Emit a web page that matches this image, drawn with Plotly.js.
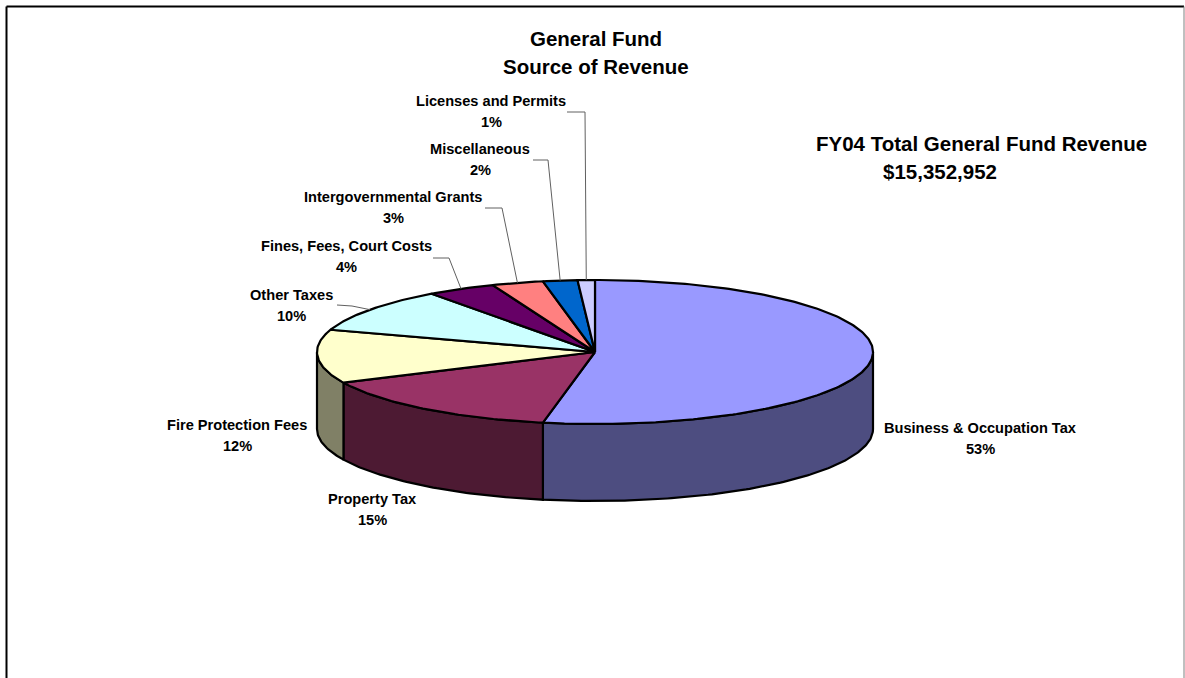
<!DOCTYPE html>
<html>
<head>
<meta charset="utf-8">
<script src="https://cdn.plot.ly/plotly-3.0.1.min.js"></script>
<style>html,body{margin:0;padding:0;background:#fff;}#chart{width:1185px;height:678px;}</style>
</head>
<body>
<div id="chart"></div>
<script>
// ---- data ----
const categories = ['Business & Occupation Tax','Property Tax','Fire Protection Fees','Other Taxes','Fines, Fees, Court Costs','Intergovernmental Grants','Miscellaneous','Licenses and Permits'];
const percents = [53, 15, 12, 10, 4, 3, 2, 1];
const topColors = ['#9999FF','#993366','#FFFFCC','#CCFFFF','#660066','#FF8080','#0066CC','#CCCCFF'];
const sideColors = ['#4D4D80','#4D1A33','#808066','#668080','#330033','#804040','#003366','#666680'];
const titleLines = ['General Fund','Source of Revenue'];
const totalLines = ['FY04 Total General Fund Revenue','$15,352,952'];

// ---- layout geometry (pixel space) ----
const W = 1185, H = 678;
const cx = 595, cy = 352, rx = 278, ry = 72, depth = 77;
const labelPos = [[980,428],[372,499],[237,425],[291,295],[346,246],[393,197],[480,149],[491,101]];
// leader lines: label-side points (start, elbow) for labelled slices that need them
const leaders = {3: [[337,305],[352,306]], 4: [[433,258],[449,258]], 5: [[485,208],[502,208]], 6: [[533,160],[548,160]], 7: [[567,112],[585,112]]};

const total = percents.reduce((a,b)=>a+b,0);
function pt(frac, dy){ const t = 2*Math.PI*frac; return [cx + rx*Math.sin(t), cy - ry*Math.cos(t) + dy]; }
function arc(f0, f1, dy){ const n = Math.max(2, Math.ceil((f1-f0)*400)); const out=[]; for(let i=0;i<=n;i++){ out.push(pt(f0+(f1-f0)*i/n, dy)); } return out; }

const starts = []; let acc = 0;
percents.forEach(v=>{ starts.push(acc/total); acc += v; });
const ends = starts.map((s,i)=> s + percents[i]/total);

const traces = [];
// side faces (front half only)
percents.forEach((v,i)=>{
  const s0 = Math.max(starts[i], 0.25), s1 = Math.min(ends[i], 0.75);
  if (s1 <= s0) return;
  const pts = arc(s0, s1, 0).concat(arc(s0, s1, depth).reverse());
  pts.push(pts[0]);
  traces.push({type:'scatter', mode:'lines', x: pts.map(p=>p[0]), y: pts.map(p=>p[1]), fill:'toself', fillcolor: sideColors[i], line:{color:'#000', width:2.2}, hoverinfo:'skip', showlegend:false});
});
// top faces
percents.forEach((v,i)=>{
  const pts = [[cx,cy]].concat(arc(starts[i], ends[i], 0));
  pts.push([cx,cy]);
  traces.push({type:'scatter', mode:'lines', x: pts.map(p=>p[0]), y: pts.map(p=>p[1]), fill:'toself', fillcolor: topColors[i], line:{color:'#000', width:2.2}, hoverinfo:'skip', showlegend:false, name: categories[i]});
});
// leader lines
Object.keys(leaders).forEach(k=>{
  const i = +k; const mid = (starts[i]+ends[i])/2; const a = pt(mid, 0);
  const pts = leaders[k].concat([a]);
  traces.push({type:'scatter', mode:'lines', x: pts.map(p=>p[0]), y: pts.map(p=>p[1]), line:{color:'#606060', width:1}, hoverinfo:'skip', showlegend:false});
});

const font = {family:'"Liberation Sans", Arial, sans-serif', color:'#000'};
const LS = 14.6, TS = 20.5;
const annotations = [];
categories.forEach((c,i)=>{
  annotations.push({x: labelPos[i][0], y: labelPos[i][1], xref:'x', yref:'y', text:'<b>'+c+'</b>', showarrow:false, font:Object.assign({size:LS}, font)});
  annotations.push({x: labelPos[i][0], y: labelPos[i][1]+21, xref:'x', yref:'y', text:'<b>'+Math.round(percents[i]/total*100)+'%</b>', showarrow:false, font:Object.assign({size:LS}, font)});
});
annotations.push({x:596, y:38, xref:'x', yref:'y', text:'<b>'+titleLines[0]+'</b>', showarrow:false, font:Object.assign({size:TS}, font)});
annotations.push({x:596, y:66, xref:'x', yref:'y', text:'<b>'+titleLines[1]+'</b>', showarrow:false, font:Object.assign({size:TS}, font)});
annotations.push({x:981, y:143, xref:'x', yref:'y', text:'<b>'+totalLines[0]+'</b>', showarrow:false, font:Object.assign({size:TS}, font)});
annotations.push({x:940, y:171, xref:'x', yref:'y', text:'<b>'+totalLines[1]+'</b>', showarrow:false, font:Object.assign({size:TS}, font)});

const layout = {
  width: W, height: H,
  margin: {l:0, r:0, t:0, b:0},
  paper_bgcolor:'#fff', plot_bgcolor:'#fff',
  xaxis: {range:[0,W], visible:false, fixedrange:true},
  yaxis: {range:[H,0], visible:false, fixedrange:true},
  showlegend:false, hovermode:false,
  annotations: annotations,
  shapes: [
    {type:'line', xref:'x', yref:'y', x0:6.5, x1:1184, y0:6.5, y1:6.5, line:{color:'#000', width:2}},
    {type:'line', xref:'x', yref:'y', x0:6.5, x1:6.5, y0:6.5, y1:700, line:{color:'#000', width:2}},
    {type:'line', xref:'x', yref:'y', x0:1184, x1:1184, y0:6.5, y1:700, line:{color:'#808080', width:1}}
  ]
};
Plotly.newPlot('chart', traces, layout, {staticPlot:true, displayModeBar:false});
</script>
</body>
</html>
